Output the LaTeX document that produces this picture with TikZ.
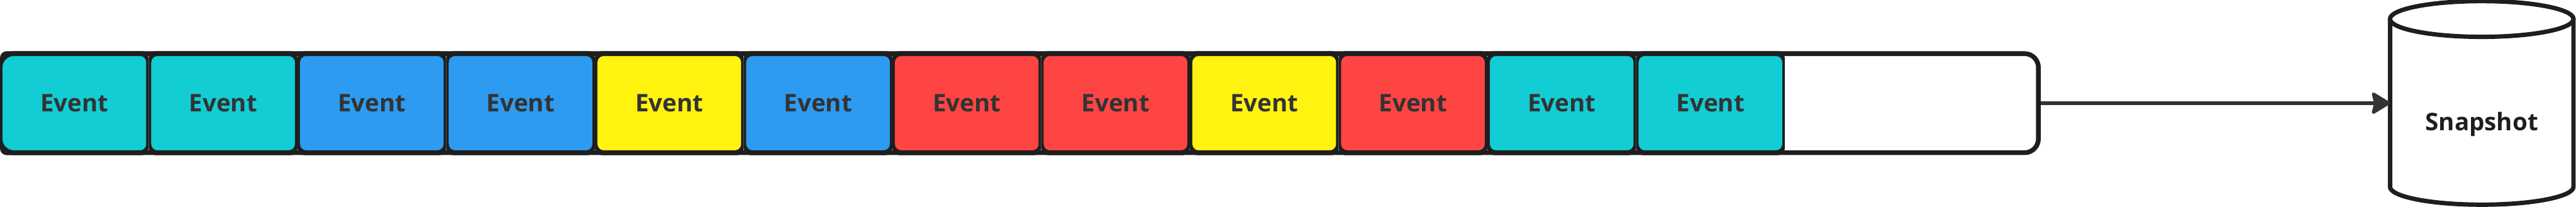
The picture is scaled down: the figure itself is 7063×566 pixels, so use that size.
\documentclass[tikz,border=0pt]{standalone}
\usepackage{fontspec}
\setmainfont{Open Sans}
\usetikzlibrary{calc,arrows.meta}
\definecolor{ink}{HTML}{1E1E1E}
\definecolor{evtext}{HTML}{333333}
\definecolor{arrowc}{HTML}{333333}
\definecolor{cyanE}{HTML}{12CDD4}
\definecolor{blueE}{HTML}{2D9BF0}
\definecolor{yellowE}{HTML}{FFF30F}
\definecolor{redE}{HTML}{FF4444}
\begin{document}
\begin{tikzpicture}[x=0.1mm,y=0.1mm,
  labelfont/.style={font=\fontsize{18.9pt}{22pt}\selectfont\bfseries},
  evframe/.style={fill=ink, rounded corners=1.85mm,
    minimum width=40.78mm, minimum height=28.5mm, inner sep=0pt, outer sep=0pt},
  evfill/.style={rounded corners=1.8mm,
    minimum width=39.4mm, minimum height=25.9mm, inner sep=0pt,
    labelfont, text=evtext},
  container/.style={fill=white, minimum width=558.9mm, minimum height=27.15mm,
    inner sep=0pt, outer sep=0pt, rounded corners=3.8mm},
  border/.style={draw=ink, line width=1.3mm, rounded corners=3.8mm},
  cyl/.style={draw=ink, line width=1.2mm, fill=white},
  flow/.style={draw=arrowc, line width=0.9mm,
    -{Stealth[length=5.6mm,width=6.7mm,inset=0.8mm,round]}}
]
\useasboundingbox (0,0) rectangle (7063,566);
% log container
\node[container] (log) at (2794.5,283.25) {};
\foreach \c [count=\i] in {cyanE,cyanE,blueE,blueE,yellowE,blueE,redE,redE,yellowE,redE,cyanE,cyanE}{
  \node[evframe] (e\i) at ({407.8*(\i-1)+203.9},283.25) {};
  \node[evfill, fill=\c] (t\i) at (e\i.center) {Event};
}
\draw[border] (log.south west) rectangle (log.north east);
% snapshot cylinder
\node[minimum width=50.3mm, minimum height=55.8mm, inner sep=0pt, outer sep=0pt] (snap) at (6804.5,284) {};
\draw[cyl] ($(snap.north west)+(0,-49)$) -- ($(snap.south west)+(0,49)$)
  arc[start angle=180,end angle=360,x radius=251.5,y radius=49]
  -- ($(snap.north east)+(0,-49)$);
\draw[cyl] ($(snap.north)+(0,-49)$) ellipse [x radius=251.5, y radius=49];
\node[labelfont, text=ink, anchor=base, inner sep=0pt] (snaplabel) at ($(snap.center)+(0,-75)$) {Snapshot};
% arrow
\draw[flow, shorten <=0.65mm] (log.east) -- (log.east -| snap.west);
\end{tikzpicture}
\end{document}
